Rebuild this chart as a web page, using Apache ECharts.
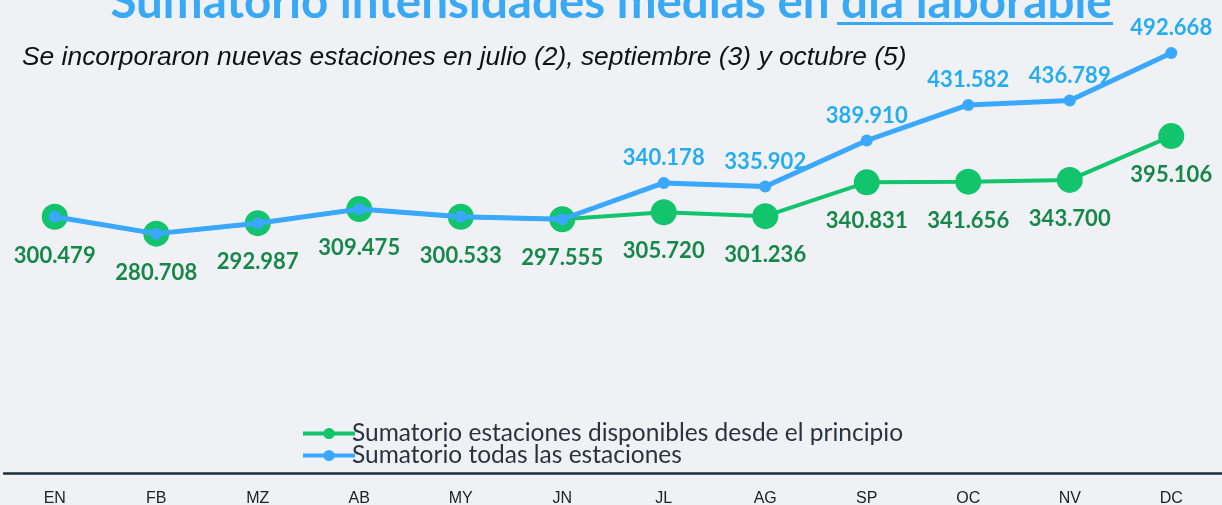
<!DOCTYPE html>
<html>
<head>
<meta charset="utf-8">
<script src="https://cdn.jsdelivr.net/npm/echarts@6/dist/echarts.min.js"></script>
<style>
  html, body { margin: 0; padding: 0; background: #eff1f5; }
  #chart { width: 1222px; height: 505px; }
</style>
</head>
<body>
<div id="chart"></div>
<script>
// Datos (miles de vehiculos, punto como separador de miles)
const meses = ['EN', 'FB', 'MZ', 'AB', 'MY', 'JN', 'JL', 'AG', 'SP', 'OC', 'NV', 'DC'];
const estaciones_principio = [300479, 280708, 292987, 309475, 300533, 297555, 305720, 301236, 340831, 341656, 343700, 395106];
const todas_estaciones = [300479, 280708, 292987, 309475, 300533, 297555, 340178, 335902, 389910, 431582, 436789, 492668];
const primer_mes_con_etiqueta = 6; // las etiquetas azules solo desde julio

const VERDE = '#12c46c';
const VERDE_OSCURO = '#17874a';
const AZUL = '#3aa8ff';
const AZUL_ETIQ = '#25adf0';

const formatoMiles = function (v) {
    return String(v).replace(/\B(?=(\d{3})+(?!\d))/g, '.');
};

var myChart = echarts.init(document.getElementById('chart'));

var option = {
    backgroundColor: '#eff1f5',
    animation: false,
    title: [{
        text: 'Sumatorio intensidades medias en día laborable',
        left: 'center',
        top: -26,
        textStyle: {
            fontFamily: 'Lato',
            fontWeight: 'bold',
            fontSize: 47.5,
            color: '#3aa9f5'
        }
    }, {
        text: 'Se incorporaron nuevas estaciones en julio (2), septiembre (3) y octubre (5)',
        left: 17,
        top: 40,
        textStyle: {
            fontFamily: 'Liberation Sans',
            fontStyle: 'italic',
            fontWeight: 'normal',
            fontSize: 26.4,
            color: '#111111'
        }
    }],
    graphic: [{
        type: 'rect',
        left: 837,
        top: 22,
        shape: { width: 276, height: 3 },
        style: { fill: '#3aa9f5' }
    }],
    legend: {
        orient: 'vertical',
        left: 296,
        top: 416,
        itemWidth: 52,
        itemHeight: 14,
        itemGap: -3,
        lineStyle: { width: 4 },
        textStyle: {
            fontFamily: 'Lato',
            fontSize: 24.5,
            lineHeight: 20,
            color: '#2a3440',
            padding: [0, 0, 0, -8]
        },
        data: ['Sumatorio estaciones disponibles desde el principio', 'Sumatorio todas las estaciones']
    },
    grid: {
        left: 4,
        right: 0,
        top: 4,
        bottom: 32,
        outerBoundsMode: 'none'
    },
    xAxis: {
        type: 'category',
        data: meses,
        boundaryGap: true,
        offset: 6,
        axisLine: { lineStyle: { color: '#1f2d3d', width: 2.5 } },
        axisTick: { show: false },
        axisLabel: {
            fontFamily: 'Liberation Sans',
            fontSize: 16,
            color: '#222222',
            margin: 12
        }
    },
    yAxis: {
        type: 'value',
        min: 0,
        max: 550000,
        show: false,
        splitLine: { show: false }
    },
    series: [
        {
            name: 'Sumatorio estaciones disponibles desde el principio',
            type: 'line',
            data: estaciones_principio,
            symbol: 'circle',
            symbolSize: 26,
            z: 2,
            itemStyle: { color: VERDE },
            lineStyle: { color: VERDE, width: 4 },
            label: {
                show: true,
                position: 'bottom',
                distance: 15,
                fontFamily: 'Lato',
                fontWeight: 'bold',
                fontSize: 22,
                color: VERDE_OSCURO,
                formatter: function (p) { return formatoMiles(p.value); }
            }
        },
        {
            name: 'Sumatorio todas las estaciones',
            type: 'line',
            data: todas_estaciones.map(function (v, i) {
                return { value: v, label: { show: i >= primer_mes_con_etiqueta } };
            }),
            symbol: 'circle',
            symbolSize: 12,
            z: 3,
            itemStyle: { color: AZUL },
            lineStyle: { color: AZUL, width: 5 },
            label: {
                position: 'top',
                distance: 8,
                fontFamily: 'Lato',
                fontWeight: 'bold',
                fontSize: 22,
                color: AZUL_ETIQ,
                formatter: function (p) { return formatoMiles(p.value); }
            }
        }
    ]
};

myChart.setOption(option);
</script>
</body>
</html>
